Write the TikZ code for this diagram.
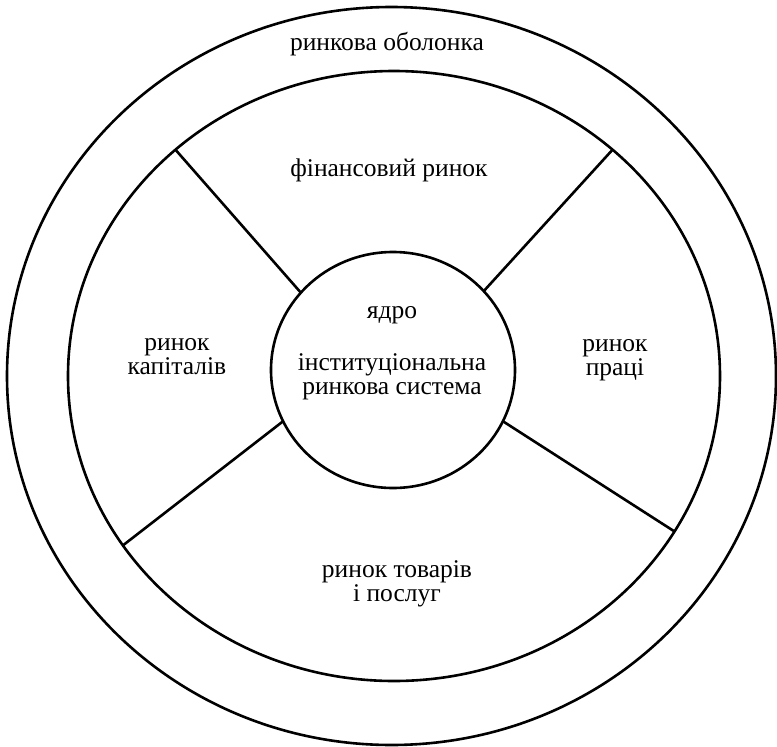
\documentclass[tikz,border=0pt]{standalone}
\usepackage{fontspec}
\setmainfont{Liberation Serif}
\usetikzlibrary{shapes.geometric}

\begin{document}
\begin{tikzpicture}[
    x=1pt, y=-1pt,
    ring/.style = {
        ellipse, draw, line width=2.6pt, inner sep=0pt, outer sep=0pt
    },
    spoke/.style = {
        line width=2.6pt
    },
    label/.style = {
        font=\fontsize{25.5}{24}\selectfont, align=center, anchor=base, inner sep=0pt
    }
]
\useasboundingbox (0,0) rectangle (777,747);

% Rings
\node[ring, minimum width=769pt, minimum height=738pt] (shell)  at (391.5,376) {};
\node[ring, minimum width=652pt, minimum height=610pt] (market) at (394,376)   {};
\node[ring, minimum width=244pt, minimum height=236pt] (core)   at (393,370)   {};

% Spokes between market ring and core
\draw[spoke] (market.134.5) -- (core.140.5);
\draw[spoke] (market.46.2)  -- (core.41.4);
\draw[spoke] (market.212.3) -- (core.205.4);
\draw[spoke] (market.331.7) -- (core.335.2);

% Labels (base = last line)
\node[label] (shelltxt)  at (387,50)  {ринкова оболонка};
\node[label] (finance)   at (389,176) {фінансовий ринок};
\node[label] (capital)   at (177,374) {ринок\\капіталів};
\node[label] (labour)    at (615,375) {ринок\\праці};
\node[label] (coretitle) at (392,318) {ядро};
\node[label] (coretext)  at (392,394) {інституціональна\\ринкова система};
\node[label] (goods)     at (397,601) {ринок товарів\\і послуг};

\end{tikzpicture}
\end{document}
